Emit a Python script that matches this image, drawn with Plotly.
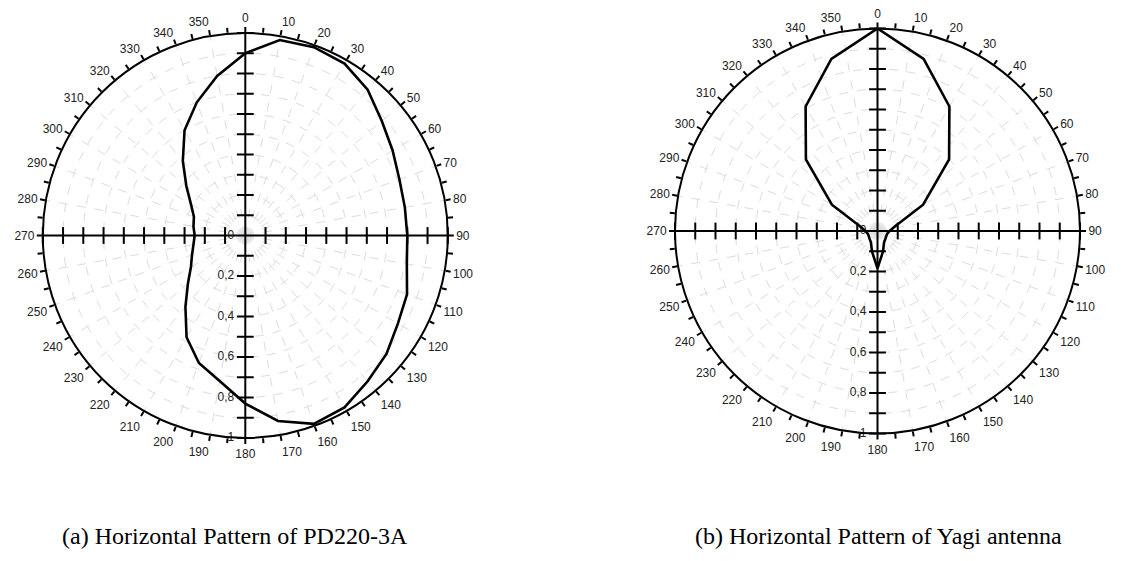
import plotly.graph_objects as go

# ---------------- data ----------------
PD_DEG = list(range(0, 360, 10))
PD_R = [0.90, 0.98, 0.99, 0.98, 0.94, 0.88, 0.84, 0.81, 0.80, 0.80,
        0.81, 0.85, 0.87, 0.91, 0.94, 0.98, 0.99, 0.93, 0.83, 0.73,
        0.67, 0.58, 0.46, 0.37, 0.31, 0.28, 0.26, 0.25, 0.26, 0.27,
        0.31, 0.38, 0.48, 0.60, 0.70, 0.80]

YAGI_DEG = list(range(0, 360, 15))
YAGI_R = [1.00, 0.88, 0.71, 0.50, 0.26, 0.09, 0.06, 0.05, 0.05, 0.055,
          0.065, 0.105, 0.185, 0.105, 0.065, 0.055, 0.05, 0.05, 0.06, 0.09,
          0.26, 0.50, 0.71, 0.88]

ANG_TICKS = list(range(0, 360, 5))
ANG_LABELS = [str(a) if a % 10 == 0 else "" for a in ANG_TICKS]
ANG_GRID = list(range(0, 360, 10))
RAD_TICKS = [0.1, 0.2, 0.3, 0.4, 0.5, 0.6, 0.7, 0.8, 0.9, 1.0]
RAD_LABEL_VALS = [0, 0.2, 0.4, 0.6, 0.8, 1.0]
RAD_LABELS = ["0", "0,2", "0,4", "0,6", "0,8", "1"]
CAPTIONS = ["(a) Horizontal Pattern of PD220-3A",
            "(b) Horizontal Pattern of Yagi antenna"]

W, H = 1121, 561
# chart centres / radius in px (layout only)
CHARTS = [(245.3, 235.5, 202.5), (877.5, 231.0, 202.5)]
CAPTION_X = [235, 878]
CAPTION_Y = 536

fig = go.Figure()


def dom(cx, cy, R):
    return dict(x=[(cx - R) / W, (cx + R) / W],
                y=[1 - (cy + R) / H, 1 - (cy - R) / H])


def closed(deg, r):
    return deg + [deg[0]], r + [r[0]]


series = [(PD_DEG, PD_R), (YAGI_DEG, YAGI_R)]

for i, ((cx, cy, R), (deg, rr)) in enumerate(zip(CHARTS, series)):
    gname = "polar" if i == 0 else "polar2"
    mname = "polar3" if i == 0 else "polar4"
    # cross axes through centre
    fig.add_trace(go.Scatterpolar(r=[1, 0, 1], theta=[270, 270, 90], mode="lines",
                                  line=dict(color="black", width=2), subplot=gname,
                                  showlegend=False, hoverinfo="skip"))
    fig.add_trace(go.Scatterpolar(r=[1, 0, 1], theta=[0, 0, 180], mode="lines",
                                  line=dict(color="black", width=2), subplot=gname,
                                  showlegend=False, hoverinfo="skip"))
    # tick marks on cross axes
    fig.add_trace(go.Scatterpolar(r=RAD_TICKS * 2, theta=[90] * len(RAD_TICKS) + [270] * len(RAD_TICKS),
                                  mode="markers", subplot=gname, showlegend=False, hoverinfo="skip",
                                  marker=dict(symbol="line-ns", size=12,
                                              line=dict(color="black", width=2))))
    fig.add_trace(go.Scatterpolar(r=RAD_TICKS * 2, theta=[0] * len(RAD_TICKS) + [180] * len(RAD_TICKS),
                                  mode="markers", subplot=gname, showlegend=False, hoverinfo="skip",
                                  marker=dict(symbol="line-ew", size=12,
                                              line=dict(color="black", width=2))))
    # radial tick labels on the downward axis
    fig.add_trace(go.Scatterpolar(r=RAD_LABEL_VALS, theta=[180] * len(RAD_LABEL_VALS),
                                  mode="markers+text", text=RAD_LABELS,
                                  textposition="middle left", subplot=gname,
                                  showlegend=False, hoverinfo="skip",
                                  marker=dict(size=16, color="rgba(0,0,0,0)"),
                                  textfont=dict(family="Liberation Sans", size=12, color="#222"),
                                  cliponaxis=False))
    # pattern
    t, r = closed(deg, rr)
    fig.add_trace(go.Scatterpolar(r=r, theta=t, mode="lines", subplot=mname,
                                  line=dict(color="black", width=2.6), showlegend=False))

    d = dom(cx, cy, R)
    grid_polar = dict(
        domain=d, bgcolor="white",
        angularaxis=dict(rotation=90, direction="clockwise", tickmode="array",
                         tickvals=ANG_GRID, showticklabels=False, ticks="",
                         showline=False, showgrid=True, gridcolor="#dcdcdc",
                         griddash="dash", gridwidth=1),
        radialaxis=dict(range=[0, 1], tickmode="array", tickvals=RAD_TICKS,
                        showticklabels=False, ticks="", showline=False,
                        showgrid=True, gridcolor="#dcdcdc", griddash="dash",
                        gridwidth=1, angle=-90),
    )
    main_polar = dict(
        domain=d, bgcolor="rgba(0,0,0,0)",
        angularaxis=dict(rotation=90, direction="clockwise", tickmode="array",
                         tickvals=ANG_TICKS, ticktext=ANG_LABELS, ticks="outside",
                         ticklen=5, tickwidth=1.5, tickcolor="black",
                         showline=True, linecolor="black", linewidth=2,
                         showgrid=False,
                         tickfont=dict(family="Liberation Sans", size=12, color="#222")),
        radialaxis=dict(range=[0, 1], showticklabels=False, ticks="",
                        showline=False, showgrid=False, angle=-90),
    )
    fig.update_layout(**{gname: grid_polar, mname: main_polar})

for x, txt in zip(CAPTION_X, CAPTIONS):
    fig.add_annotation(text=txt, x=x / W, y=1 - CAPTION_Y / H, xref="paper", yref="paper",
                       showarrow=False, xanchor="center", yanchor="middle",
                       font=dict(family="Liberation Serif", size=24, color="black"))

fig.update_layout(width=W, height=H, margin=dict(l=0, r=0, t=0, b=0),
                  paper_bgcolor="white", showlegend=False)

fig.write_html("out.html")
